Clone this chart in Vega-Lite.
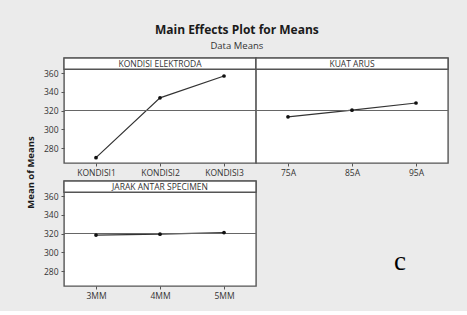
{
  "$schema": "https://vega.github.io/schema/vega-lite/v6.json",
  "background": "#ebebeb",
  "padding": {"left": 24, "top": 24, "right": 20, "bottom": 10},
  "title": {
    "text": "Main Effects Plot for Means",
    "subtitle": "Data Means",
    "anchor": "middle",
    "font": "Open Sans",
    "fontSize": 12,
    "fontWeight": "bold",
    "color": "#1a1a1a",
    "subtitleFont": "Open Sans",
    "subtitleFontSize": 9.5,
    "subtitleColor": "#333",
    "subtitlePadding": 4,
    "offset": 5
  },
  "config": {
    "view": {"stroke": "#555", "strokeWidth": 1.4, "fill": "white"},
    "axis": {
      "labelFont": "Open Sans",
      "labelFontSize": 8.5,
      "labelColor": "#333",
      "labelOverlap": false,
      "tickColor": "#555",
      "tickSize": 3,
      "domain": false,
      "grid": false,
      "labelPadding": 2,
      "titleFont": "Open Sans"
    }
  },
  "datasets": {
    "means": [
      {"factor": "KONDISI ELEKTRODA", "level": "KONDISI1", "mean": 269.7},
      {"factor": "KONDISI ELEKTRODA", "level": "KONDISI2", "mean": 333.5},
      {"factor": "KONDISI ELEKTRODA", "level": "KONDISI3", "mean": 356.8},
      {"factor": "KUAT ARUS", "level": "75A", "mean": 313.3},
      {"factor": "KUAT ARUS", "level": "85A", "mean": 320.3},
      {"factor": "KUAT ARUS", "level": "95A", "mean": 328.0},
      {"factor": "JARAK ANTAR SPECIMEN", "level": "3MM", "mean": 318.3},
      {"factor": "JARAK ANTAR SPECIMEN", "level": "4MM", "mean": 319.3},
      {"factor": "JARAK ANTAR SPECIMEN", "level": "5MM", "mean": 321.0}
    ],
    "factors": [
      {"factor": "KONDISI ELEKTRODA"},
      {"factor": "KUAT ARUS"},
      {"factor": "JARAK ANTAR SPECIMEN"}
    ],
    "note": [{"label": "c"}]
  },
  "resolve": {"scale": {"x": "independent", "y": "independent"}},
  "bounds": "flush",
  "columns": 2,
  "spacing": {"row": 18, "column": 0},
  "concat": [
    {
      "width": 192,
      "height": 105,
      "data": {"name": "means"},
      "transform": [{"filter": "datum.factor === 'KONDISI ELEKTRODA'"}],
      "layer": [
        {
          "mark": {"type": "line", "color": "#333", "strokeWidth": 1.2},
          "encoding": {
            "x": {"field": "level", "type": "nominal", "sort": null,
              "scale": {"type": "point", "padding": 0.5},
              "axis": {"title": null, "labelAngle": 0}},
            "y": {"field": "mean", "type": "quantitative",
              "scale": {"domain": [264, 376], "nice": false, "zero": false},
              "axis": {"values": [280, 300, 320, 340, 360], "tickCount": 10, "title": "Mean of Means",
                "labelPadding": 3, "titleFontSize": 9.5, "titleFontWeight": "bold", "titleColor": "#1a1a1a",
                "titleAngle": -90, "titleX": -34, "titleY": 114, "titleAlign": "center", "titleBaseline": "middle"}}
          }
        },
        {
          "mark": {"type": "rule", "color": "#666", "strokeWidth": 1},
          "encoding": {"y": {"datum": 320, "type": "quantitative"}}
        },
        {
          "mark": {"type": "point", "filled": true, "color": "#111", "size": 14, "opacity": 1},
          "encoding": {
            "x": {"field": "level", "type": "nominal", "sort": null},
            "y": {"field": "mean", "type": "quantitative"}
          }
        },
        {
          "data": {"name": "factors"},
          "transform": [{"filter": "datum.factor === 'KONDISI ELEKTRODA'"}],
          "mark": {"type": "rect", "fill": "white", "stroke": "#555", "strokeWidth": 1.4},
          "encoding": {"y": {"datum": 364, "type": "quantitative"}, "y2": {"datum": 376}}
        },
        {
          "data": {"name": "factors"},
          "transform": [{"filter": "datum.factor === 'KONDISI ELEKTRODA'"}],
          "mark": {"type": "text", "font": "Open Sans", "fontSize": 8.5, "color": "#333", "baseline": "middle"},
          "encoding": {"text": {"field": "factor"}, "y": {"datum": 370, "type": "quantitative"}}
        }
      ]
    },
    {
      "width": 192,
      "height": 105,
      "data": {"name": "means"},
      "transform": [{"filter": "datum.factor === 'KUAT ARUS'"}],
      "layer": [
        {
          "mark": {"type": "line", "color": "#333", "strokeWidth": 1.2},
          "encoding": {
            "x": {"field": "level", "type": "nominal", "sort": null,
              "scale": {"type": "point", "padding": 0.5},
              "axis": {"title": null, "labelAngle": 0}},
            "y": {"field": "mean", "type": "quantitative",
              "scale": {"domain": [264, 376], "nice": false, "zero": false}, "axis": null}
          }
        },
        {
          "mark": {"type": "rule", "color": "#666", "strokeWidth": 1},
          "encoding": {"y": {"datum": 320, "type": "quantitative", "axis": null}}
        },
        {
          "mark": {"type": "point", "filled": true, "color": "#111", "size": 14, "opacity": 1},
          "encoding": {
            "x": {"field": "level", "type": "nominal", "sort": null},
            "y": {"field": "mean", "type": "quantitative", "axis": null}
          }
        },
        {
          "data": {"name": "factors"},
          "transform": [{"filter": "datum.factor === 'KUAT ARUS'"}],
          "mark": {"type": "rect", "fill": "white", "stroke": "#555", "strokeWidth": 1.4},
          "encoding": {"y": {"datum": 364, "type": "quantitative", "axis": null}, "y2": {"datum": 376}}
        },
        {
          "data": {"name": "factors"},
          "transform": [{"filter": "datum.factor === 'KUAT ARUS'"}],
          "mark": {"type": "text", "font": "Open Sans", "fontSize": 8.5, "color": "#333", "baseline": "middle"},
          "encoding": {"text": {"field": "factor"}, "y": {"datum": 370, "type": "quantitative", "axis": null}}
        }
      ]
    },
    {
      "width": 192,
      "height": 105,
      "data": {"name": "means"},
      "transform": [{"filter": "datum.factor === 'JARAK ANTAR SPECIMEN'"}],
      "layer": [
        {
          "mark": {"type": "line", "color": "#333", "strokeWidth": 1.2},
          "encoding": {
            "x": {"field": "level", "type": "nominal", "sort": null,
              "scale": {"type": "point", "padding": 0.5},
              "axis": {"title": null, "labelAngle": 0}},
            "y": {"field": "mean", "type": "quantitative",
              "scale": {"domain": [264, 376], "nice": false, "zero": false},
              "axis": {"values": [280, 300, 320, 340, 360], "tickCount": 10, "title": null, "labelPadding": 3}}
          }
        },
        {
          "mark": {"type": "rule", "color": "#666", "strokeWidth": 1},
          "encoding": {"y": {"datum": 320, "type": "quantitative"}}
        },
        {
          "mark": {"type": "point", "filled": true, "color": "#111", "size": 14, "opacity": 1},
          "encoding": {
            "x": {"field": "level", "type": "nominal", "sort": null},
            "y": {"field": "mean", "type": "quantitative"}
          }
        },
        {
          "data": {"name": "factors"},
          "transform": [{"filter": "datum.factor === 'JARAK ANTAR SPECIMEN'"}],
          "mark": {"type": "rect", "fill": "white", "stroke": "#555", "strokeWidth": 1.4},
          "encoding": {"y": {"datum": 364, "type": "quantitative"}, "y2": {"datum": 376}}
        },
        {
          "data": {"name": "factors"},
          "transform": [{"filter": "datum.factor === 'JARAK ANTAR SPECIMEN'"}],
          "mark": {"type": "text", "font": "Open Sans", "fontSize": 8.5, "color": "#333", "baseline": "middle"},
          "encoding": {"text": {"field": "factor"}, "y": {"datum": 370, "type": "quantitative"}}
        }
      ]
    },
    {
      "width": 192,
      "height": 105,
      "view": {"stroke": null, "fill": null},
      "data": {"name": "note"},
      "mark": {"type": "text", "font": "Liberation Serif", "fontSize": 27, "color": "#000", "baseline": "middle"},
      "encoding": {
        "text": {"field": "label"},
        "x": {"datum": 0.75, "type": "quantitative", "scale": {"domain": [0, 1]}, "axis": null},
        "y": {"datum": 0.23, "type": "quantitative", "scale": {"domain": [0, 1]}, "axis": null}
      }
    }
  ]
}
